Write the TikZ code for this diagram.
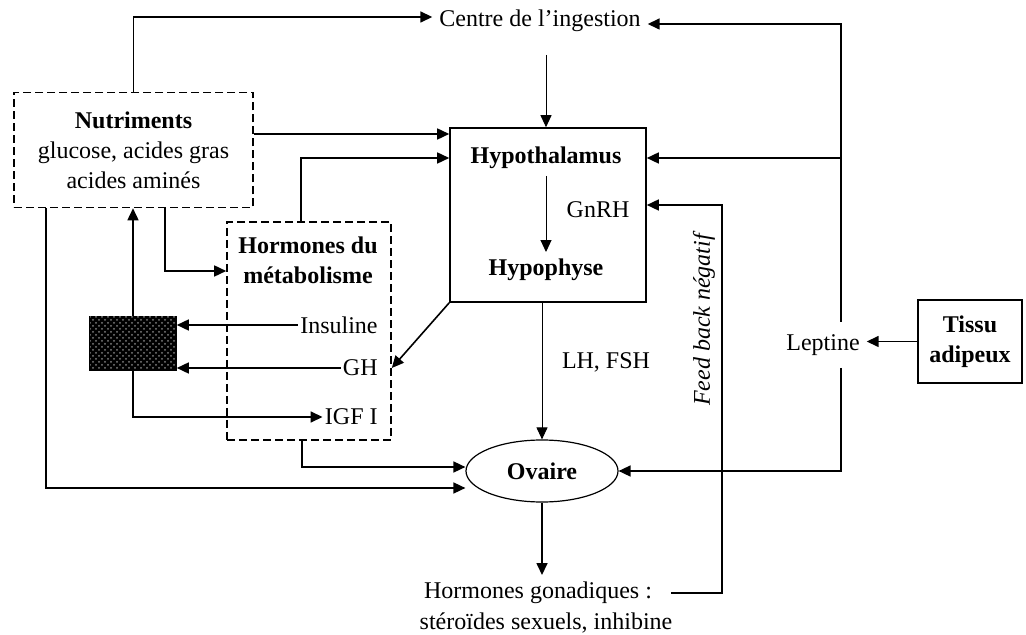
\documentclass[tikz,border=0pt]{standalone}
\usepackage{fontspec}
\setmainfont{Liberation Serif}
\usetikzlibrary{shapes.geometric,arrows.meta,positioning,patterns}

\begin{document}
\begin{tikzpicture}[
    x=0.5pt, y=-0.5pt,
    every node/.style={font=\fontsize{12}{15}\selectfont},
    heavy/.style={font=\fontsize{12}{15}\selectfont\bfseries},
    box/.style={rectangle, draw, line width=0.8pt, inner sep=0pt, align=center},
    dbox/.style={box, dash pattern=on 4pt off 2pt},
    arrow/.style={-{Triangle[length=6pt,width=5.5pt]}, line width=0.8pt},
    fine/.style={-{Triangle[length=6pt,width=5.5pt]}, line width=0.5pt}
]
    \useasboundingbox (0,0) rectangle (1026,635);

    % Nutriments and metabolism
    \node[dbox, minimum width=119.5pt, minimum height=57.5pt] (nutri) at (133.5,150) {\textbf{Nutriments}\\glucose, acides gras\\acides aminés};
    \node[dbox, minimum width=82pt, minimum height=109pt] (hormo) at (309,331) {};
    \node[heavy, align=center] (metab) at (308,260) {Hormones du\\métabolisme};
    \node[anchor=east, inner sep=1pt] (insul) at (380,325) {Insuline};
    \node[anchor=east, inner sep=1pt] (gh) at (380,368) {GH};
    \node[anchor=east, inner sep=1pt] (igf) at (380,417) {IGF I};
    \node[box, fill=black, postaction={pattern=crosshatch dots, pattern color=gray}, minimum width=43pt, minimum height=26.5pt] (dms) at (133,343.5) {};

    % Axis
    \node (ingest) at (540,21) {Centre de l'ingestion};
    \node[box, minimum width=98pt, minimum height=87pt] (hypo) at (548,215) {};
    \node[heavy] (hypot) at (546,158) {Hypothalamus};
    \node (gnrh) at (598,210) {GnRH};
    \node[heavy] (hypoph) at (546,270) {Hypophyse};
    \node (lhfsh) at (606,362) {LH, FSH};
    \node[ellipse, draw, line width=0.6pt, minimum width=76pt, minimum height=31pt, inner sep=0pt, heavy] (ovaire) at (542,471) {Ovaire};
    \node (gonad1) at (538,593) {Hormones gonadiques :};
    \node (gonad2) at (546,623) {stéroïdes sexuels, inhibine};
    \node[rotate=90, font=\fontsize{12}{15}\selectfont\itshape] (fback) at (704,320) {Feed back négatif};

    % Leptine
    \node (lept) at (823,345) {Leptine};
    \node[box, heavy, minimum width=52pt, minimum height=41.5pt] (tissu) at (970,341.5) {Tissu\\adipeux};
    \coordinate (lepttop) at (841,322);
    \coordinate (leptbot) at (841,368);
    \coordinate (rhyp) at (841,158);
    \coordinate (fbturn) at (722,205);

    % Connectors
    \draw[arrow] (nutri.north) |- ([yshift=2pt]ingest.west);
    \draw[arrow] (lepttop) |- ([yshift=-1.5pt]ingest.east);
    \draw[arrow] (rhyp) -- (rhyp -| hypo.east);
    \draw[arrow] (leptbot) |- (ovaire.east);
    \draw[arrow] (tissu.west) -- (tissu.west -| lept.east);
    \draw[fine, shorten <=8pt] (ingest.south -| hypot) -- (hypot |- hypo.north);
    \draw[arrow] ([yshift=8pt]nutri.east) -- ([yshift=8pt]nutri.east -| hypo.west);
    \draw[arrow] ([xshift=-4pt]hormo.north) |- (hypot -| hypo.west);
    \draw[arrow] ([xshift=15.75pt]nutri.south) |- ([yshift=30pt]hormo.west);
    \draw[arrow] ([xshift=-43.75pt]nutri.south) |- ([yshift=-8.5pt]ovaire.west);
    \draw[arrow] ([xshift=-3.5pt]hormo.south) |- ([yshift=2pt]ovaire.west);
    \draw[arrow] (dms.north) -- (dms.north |- nutri.south);
    \draw[arrow] (dms.south) |- (igf.west);
    \draw[arrow] (insul.west) -- (insul.west -| dms.east);
    \draw[arrow] (gh.west) -- (gh.west -| dms.east);
    \draw[arrow] (hypo.south west) -- (hormo.east |- gh);
    \draw[fine] (hypot) -- (hypoph);
    \draw[fine] (ovaire.north |- hypo.south) -- (ovaire.north);
    \draw[arrow] (ovaire.south) -- (ovaire.south |- gonad1.north);
    \draw[arrow] ([xshift=6pt]gonad1.east) -| (fbturn) -- (fbturn -| hypo.east);
\end{tikzpicture}
\end{document}
